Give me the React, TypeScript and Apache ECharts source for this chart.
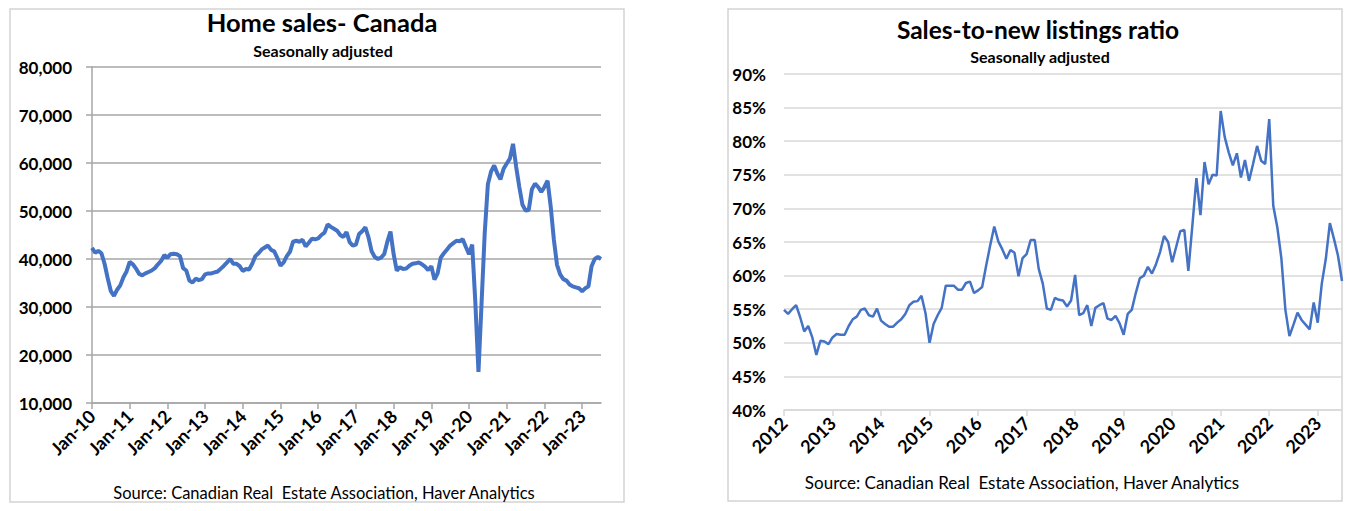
import React, { useEffect, useRef } from "react";
import * as echarts from "echarts";

// Home sales, Canada, seasonally adjusted, monthly Jan 2010 – Jul 2023
const homeSales = [
  42300, 41300, 41700, 41200, 39000, 36000, 33300, 32300, 33600, 34500, 36200, 37400,
  39400, 38900, 38000, 36900, 36600, 37000, 37300, 37600, 38100, 38900, 39600, 40800,
  40300, 41000, 41100, 41000, 40600, 38100, 37600, 35500, 35100, 35900, 35600, 35800,
  36800, 37000, 37000, 37200, 37400, 38000, 38600, 39300, 40000, 39000, 39000, 38500,
  37500, 37900, 37800, 39000, 40600, 41200, 42000, 42400, 42800, 41900, 41600, 40200,
  38600, 39300, 40600, 41500, 43600, 43800, 43600, 44000, 42600, 43400, 44200, 44100,
  44300, 45000, 45500, 47200, 46700, 46300, 45900, 45000, 44600, 45600, 43500, 42800,
  43000, 45200, 45800, 46600, 44500, 41600, 40400, 40000, 40300, 41000, 43600, 45700,
  41000, 37600, 38300, 37900, 38000, 38600, 39000, 39100, 39300, 38900, 38400, 37700,
  38500, 35700, 37000, 40300, 41200, 42000, 42800, 43300, 43800, 43700, 44100, 42500,
  41000, 43000, 31000, 16500, 31000, 45500, 55600, 58200, 59500, 57800, 56600, 58800,
  59900, 60900, 64000, 59200, 55000, 51300, 50100, 50200, 54500, 55700, 55000, 54000,
  55000, 56300, 50900, 44000, 38800, 36800, 35800, 35500, 34700, 34300, 34100, 33900,
  33300, 33900, 34300, 38500, 40000, 40400, 40000,
];
const salesTickLabels = [
  "Jan-10", "Jan-11", "Jan-12", "Jan-13", "Jan-14", "Jan-15", "Jan-16",
  "Jan-17", "Jan-18", "Jan-19", "Jan-20", "Jan-21", "Jan-22", "Jan-23",
];
const salesYTicks = [10000, 20000, 30000, 40000, 50000, 60000, 70000, 80000];

// Sales-to-new listings ratio (%), monthly Jan 2012 – Jul 2023
const ratio = [
  54.9, 54.3, 55.0, 55.6, 53.8, 51.7, 52.5, 50.8, 48.2, 50.3, 50.2, 49.8,
  50.8, 51.3, 51.2, 51.2, 52.5, 53.5, 53.9, 54.9, 55.1, 54.1, 53.9, 55.1,
  53.3, 52.8, 52.4, 52.4, 53.0, 53.5, 54.3, 55.6, 56.1, 56.2, 57.0, 54.4,
  50.0, 52.8, 54.1, 55.2, 58.5, 58.5, 58.5, 57.9, 57.9, 58.9, 59.1, 57.4,
  57.8, 58.3, 61.5, 64.5, 67.3, 65.1, 63.9, 62.5, 63.8, 63.4, 59.9, 62.6,
  63.2, 65.3, 65.3, 61.0, 58.8, 55.1, 54.9, 56.7, 56.4, 56.3, 55.4, 56.3,
  60.1, 54.1, 54.4, 55.6, 52.5, 55.2, 55.6, 55.9, 53.6, 53.4, 54.0, 52.9,
  51.2, 54.3, 54.9, 57.4, 59.6, 60.0, 61.3, 60.3, 61.7, 63.5, 65.9, 65.0,
  62.0, 64.3, 66.6, 66.8, 60.7, 67.5, 74.5, 69.0, 76.9, 73.6, 75.0, 74.9,
  84.5, 80.6, 78.3, 76.4, 78.2, 74.6, 77.2, 74.1, 76.6, 79.3, 77.1, 76.6,
  83.3, 70.4, 67.2, 62.6, 54.9, 51.0, 52.7, 54.5, 53.4, 52.7, 52.0, 56.0,
  53.0, 58.8, 62.5, 67.8, 65.5, 63.0, 59.2,
];
const ratioTickLabels = [
  "2012", "2013", "2014", "2015", "2016", "2017",
  "2018", "2019", "2020", "2021", "2022", "2023",
];

const monthNames = ["Jan", "Feb", "Mar", "Apr", "May", "Jun", "Jul", "Aug", "Sep", "Oct", "Nov", "Dec"];

const salesCats = homeSales.map((_, i) =>
  i % 12 === 0 ? salesTickLabels[i / 12] : `${monthNames[i % 12]}-${10 + Math.floor(i / 12)}`
);
const ratioCats = ratio.map((_, i) =>
  i % 12 === 0 ? ratioTickLabels[i / 12] : `${monthNames[i % 12]} ${ratioTickLabels[Math.floor(i / 12)]}`
);

const FONT = "Lato, 'Noto Sans', sans-serif";
const BLUE = "#4472C4";

export default function App() {
  const ref = useRef<HTMLDivElement>(null);
  useEffect(() => {
    if (!ref.current) return;
    const chart = echarts.init(ref.current, undefined, { renderer: "svg" });
    const isJan = (i: number) => i % 12 === 0;
    const txt = (x: number, y: number, text: string, size: number, weight: string) => ({
      type: "text",
      x,
      y,
      style: {
        text,
        fontFamily: FONT,
        fontSize: size,
        fontWeight: weight,
        fill: "#000",
        textAlign: "center",
        textVerticalAlign: "middle",
      },
    });
    chart.setOption({
      animation: false,
      backgroundColor: "#fff",
      textStyle: { fontFamily: FONT },
      graphic: [
        { type: "rect", shape: { x: 10, y: 9, width: 614, height: 493 }, style: { fill: "none", stroke: "#d4d4d4", lineWidth: 1.5 } },
        { type: "rect", shape: { x: 728, y: 9, width: 614, height: 492 }, style: { fill: "none", stroke: "#d4d4d4", lineWidth: 1.5 } },
        txt(322, 22, "Home sales- Canada", 25.5, "bold"),
        txt(323, 50, "Seasonally adjusted", 16, "bold"),
        txt(324, 493, "Source: Canadian Real  Estate Association, Haver Analytics", 16.5, "normal"),
        txt(1038, 29, "Sales-to-new listings ratio", 24.5, "bold"),
        txt(1040, 56, "Seasonally adjusted", 16, "bold"),
        txt(1022, 482, "Source: Canadian Real  Estate Association, Haver Analytics", 17, "normal"),
      ],
      grid: [
        { left: 92, top: 67, width: 509, height: 336 },
        { left: 784, top: 74, width: 558, height: 336 },
      ],
      xAxis: [
        {
          type: "category",
          gridIndex: 0,
          data: salesCats,
          boundaryGap: false,
          axisLine: { show: true, lineStyle: { color: "#a6a6a6", width: 1.5 } },
          axisTick: { show: true, interval: (i: number) => isJan(i), length: 6, lineStyle: { color: "#a6a6a6", width: 1.5 } },
          axisLabel: {
            interval: (i: number) => isJan(i),
            rotate: 45,
            margin: 10,
            fontSize: 18,
            fontWeight: "bold",
            color: "#000",
            fontFamily: FONT,
          },
          splitLine: { show: false },
        },
        {
          type: "category",
          gridIndex: 1,
          data: ratioCats,
          boundaryGap: false,
          axisLine: { show: true, lineStyle: { color: "#d9d9d9", width: 1.5 } },
          axisTick: { show: true, interval: (i: number) => isJan(i), length: 6, lineStyle: { color: "#d9d9d9", width: 1.5 } },
          axisLabel: {
            interval: (i: number) => isJan(i),
            rotate: 45,
            margin: 10,
            fontSize: 18,
            fontWeight: "bold",
            color: "#000",
            fontFamily: FONT,
          },
          splitLine: { show: false },
        },
      ],
      yAxis: [
        {
          type: "value",
          gridIndex: 0,
          min: salesYTicks[0],
          max: salesYTicks[salesYTicks.length - 1],
          interval: 10000,
          axisLine: { show: true, lineStyle: { color: "#a6a6a6", width: 1.5 } },
          axisTick: { show: true, length: 6, lineStyle: { color: "#a6a6a6", width: 1.5 } },
          axisLabel: {
            margin: 20,
            fontSize: 17,
            fontWeight: "bold",
            color: "#000",
            fontFamily: FONT,
            formatter: (v: number) => v.toLocaleString("en-US"),
          },
          splitLine: { show: true, lineStyle: { color: "#a6a6a6", width: 1.5 } },
        },
        {
          type: "value",
          gridIndex: 1,
          min: 40,
          max: 90,
          interval: 5,
          axisLine: { show: false },
          axisTick: { show: false },
          axisLabel: {
            margin: 18,
            fontSize: 17,
            fontWeight: "bold",
            color: "#000",
            fontFamily: FONT,
            formatter: (v: number) => `${v}%`,
          },
          splitLine: { show: true, lineStyle: { color: "#d9d9d9", width: 1.5 } },
        },
      ],
      series: [
        {
          type: "line",
          xAxisIndex: 0,
          yAxisIndex: 0,
          data: homeSales,
          showSymbol: false,
          symbol: "none",
          lineStyle: { color: BLUE, width: 4 },
          z: 5,
        },
        {
          type: "line",
          xAxisIndex: 1,
          yAxisIndex: 1,
          data: ratio,
          showSymbol: false,
          symbol: "none",
          lineStyle: { color: BLUE, width: 2.5 },
          z: 5,
        },
      ],
    });
    return () => chart.dispose();
  }, []);
  return (
    <div
      ref={ref}
      style={{ position: "fixed", left: 0, top: 0, width: 1353, height: 511, background: "#fff" }}
    />
  );
}
